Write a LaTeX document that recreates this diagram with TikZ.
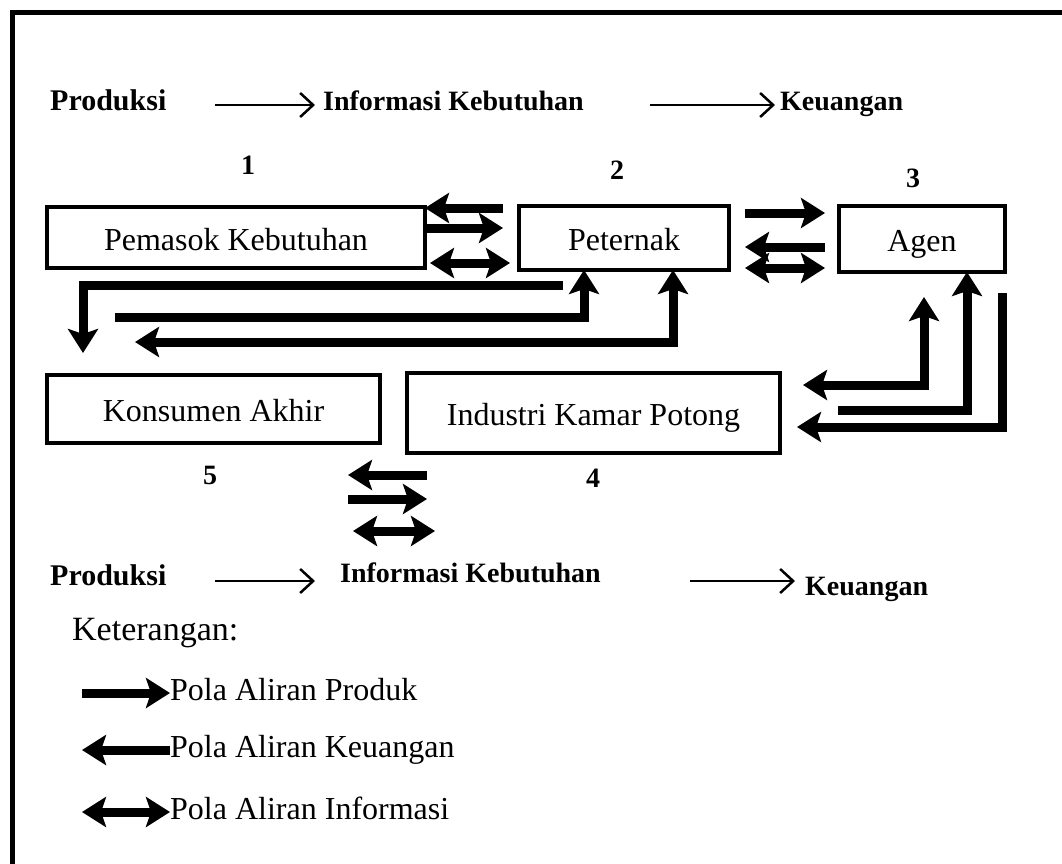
\documentclass[tikz,border=0pt]{standalone}
\usepackage{fontspec}
\setmainfont{Liberation Serif}
\usetikzlibrary{
  arrows.meta,
  calc,
  positioning
}
\tikzset{
  % For the boxes of the chain members.
  member/.style={
    draw,
    line width=4pt,
    inner sep=0pt,
    outer sep=0pt,
    text height=30pt,
    text depth=5pt,
    font=\fontsize{32}{36}\selectfont},
%
  % For the small numbers over the boxes.
  number/.style={
    font=\bfseries\fontsize{28}{32}\selectfont},
%
  % For the bold header words.
  header/.style={
    anchor=west,
    inner sep=0pt,
    text height=20pt,
    text depth=6pt,
    font=\bfseries\fontsize{28}{32}\selectfont},
%
  % For the legend texts.
  legend text/.style={
    anchor=west,
    inner sep=0pt,
    text height=22pt,
    text depth=7pt,
    font=\fontsize{32}{36}\selectfont},
%
  % For the thin header arrows.
  thin arrow/.style={
    line width=2.5pt,
    -{Straight Barb[length=13pt,width=24pt,line width=2.5pt]}},
%
  % For the thick flow arrows.
  flow/.style={
    line width=9pt,
    -{Stealth[length=24pt,width=30pt,inset=5pt]}},
  both flow/.style={
    line width=9pt,
    {Stealth[length=24pt,width=30pt,inset=5pt]}-{Stealth[length=24pt,width=30pt,inset=5pt]}},
}

\begin{document}
\begin{tikzpicture}[x=1pt,y=-1pt]
  \useasboundingbox (0,0) rectangle (1062,863);

  % Frame.
  \draw[line width=5pt] (12,900) -- (12,12) -- (1100,12);

  % Headers.
  \node[header, font=\bfseries\fontsize{30}{34}\selectfont] (prodA) at (50,103) {Produksi};
  \node[header] (infoA) at (323,103) {Informasi Kebutuhan};
  \node[header] (uangA) at (780,103) {Keuangan};
  \draw[thin arrow] (215,105) -- (315,105);
  \draw[thin arrow] (650,105) -- (775,105);

  % Numbers.
  \node[number] (n1) at (248,165) {1};
  \node[number] (n2) at (617,170) {2};
  \node[number] (n3) at (913,178) {3};
  \node[number] (n5) at (210,475) {5};
  \node[number] (n4) at (593,478) {4};

  % Members.
  \node[member, minimum width=378pt, minimum height=61pt] (pemasok) at (236,237.5) {Pemasok Kebutuhan};
  \node[member, minimum width=210pt, minimum height=64pt] (peternak) at (624,238) {Peternak};
  \node[member, minimum width=166pt, minimum height=66pt] (agen) at (922,239) {Agen};
  \node[member, minimum width=333pt, minimum height=68pt] (konsumen) at (213.5,409) {Konsumen Akhir};
  \node[member, minimum width=373pt, minimum height=80pt] (industri) at (593.5,413) {Industri Kamar Potong};

  % Ends of the free arrows.
  \coordinate (pp1) at ($(peternak.west)+(-16,-30)$);
  \coordinate (pp2) at ($(peternak.west)+(-16,-10)$);
  \coordinate (pp3) at ($(peternak.west)+(-9,25)$);
  \coordinate (pa1) at ($(peternak.east)+(16,-25)$);
  \coordinate (pa2) at ($(agen.west)+(-14,8)$);
  \coordinate (pa3) at ($(peternak.east)+(16,30)$);
  \coordinate (ki1) at ($(industri.west)+(20,62)$);
  \coordinate (ki2) at ($(konsumen.east)+(-32,90)$);
  \coordinate (ki3) at ($(konsumen.east)+(-27,122)$);

  % Between Pemasok Kebutuhan and Peternak.
  \draw[flow] (pp1) -- (pp1 -| pemasok.east);
  \draw[flow] (pemasok.east |- pp2) -- (pp2);
  \draw[both flow] ($(pemasok.east |- pp3)+(5,0)$) -- (pp3);

  % Between Peternak and Agen.
  \draw[flow] (pa1) -- (pa1 -| pa2);
  \draw[flow] (pa2) -- (pa2 -| pa1);
  \draw[both flow] (pa3) -- (pa3 -| pa2);

  % Between Konsumen Akhir and Industri Kamar Potong.
  \draw[flow] (ki1) -- (ki1 -| ki2);
  \draw[flow] (ki2) -- (ki2 -| ki1);
  \draw[both flow] (ki3) -- ($(ki3 -| ki1)+(8,0)$);

  % Long arrows under Peternak.
  \coordinate (startA) at (563,285);
  \coordinate (startB) at (115,317);
  \coordinate (endC) at (135,342);
  \draw[flow] (startA) -| ($(konsumen.north west)+(36,-22)$);
  \draw[flow] (startB) -| ($(peternak.south west)+(65,0)$);
  \draw[both flow] ($(peternak.south west)+(154,0)$) |- (endC);

  % Long arrows under Agen.
  \coordinate (startE) at (838,410);
  \coordinate (startF) at (1002,293);
  \draw[both flow] ($(agen.south)+(2,25)$) |- ($(industri.east)+(23,-28)$);
  \draw[flow] (startE) -| ($(agen.south)+(45,0)$);
  \draw[flow] (startF) |- ($(industri.east)+(17,14)$);

  % Bottom headers.
  \node[header, font=\bfseries\fontsize{30}{34}\selectfont] (prodB) at (50,578) {Produksi};
  \node[header] (infoB) at (340,575) {Informasi Kebutuhan};
  \node[header] (uangB) at (805,588) {Keuangan};
  \draw[thin arrow] (215,581) -- (315,581);
  \draw[thin arrow] (690,581) -- (795,581);

  % Legend.
  \node[legend text, font=\fontsize{34}{38}\selectfont] (ket) at (72,633) {Keterangan:};
  \coordinate (lg1) at (82,693);
  \coordinate (lg2) at (82,750);
  \coordinate (lg3) at (82,812);
  \node[legend text] (produk) at (170,693) {Pola Aliran Produk};
  \node[legend text] (uang) at (170,750) {Pola Aliran Keuangan};
  \node[legend text] (info) at (170,812) {Pola Aliran Informasi};
  \draw[flow] (lg1) -- (lg1 -| produk.west);
  \draw[flow] (uang.west |- lg2) -- (lg2);
  \draw[both flow] (lg3) -- (lg3 -| info.west);
\end{tikzpicture}
\end{document}
